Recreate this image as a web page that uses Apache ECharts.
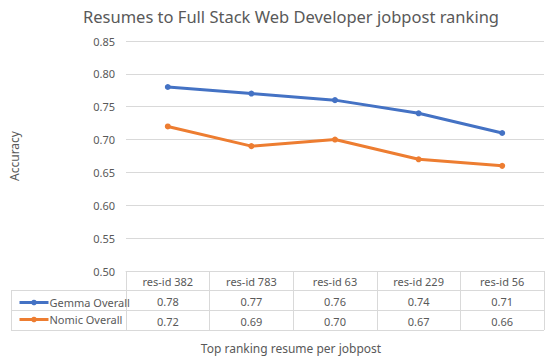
<!DOCTYPE html>
<html>
<head>
<meta charset="utf-8">
<script src="https://cdn.jsdelivr.net/npm/echarts@6/dist/echarts.min.js"></script>
<style>
html,body{margin:0;padding:0;background:#fff;}
#c{width:550px;height:360px;}
</style>
</head>
<body>
<div id="c"></div>
<script>
const categories = ['res-id 382', 'res-id 783', 'res-id 63', 'res-id 229', 'res-id 56'];
const gemmaOverall = [0.78, 0.77, 0.76, 0.74, 0.71];
const nomicOverall = [0.72, 0.69, 0.70, 0.67, 0.66];
const seriesNames = ['Gemma Overall', 'Nomic Overall'];
const yTicks = { min: 0.50, max: 0.85, interval: 0.05 };

const FONT = '"Noto Sans", "Open Sans", sans-serif';
const TXT = '#595959';
const BORDER = '#d9d9d9';
const fmt = v => v.toFixed(2);

const chart = echarts.init(document.getElementById('c'), null, { renderer: 'svg' });

const rowLine = (y) => ({ type: 'line', shape: { x1: 11, y1: y, x2: 544, y2: y }, style: { stroke: BORDER, lineWidth: 1 }, silent: true });

chart.setOption({
  animation: false,
  backgroundColor: '#fff',
  textStyle: { fontFamily: FONT },
  grid: { left: 126, right: 6, top: 41, bottom: 89, containLabel: false },
  legend: {
    orient: 'vertical', left: 13, top: 292,
    itemWidth: 29, itemHeight: 7, itemGap: 6,
    data: seriesNames,
    lineStyle: { width: 3 },
    textStyle: { color: TXT, fontSize: 11, fontFamily: FONT, padding: [0, 0, 0, -4] }
  },
  xAxis: [
    {
      type: 'category', data: categories, boundaryGap: true, position: 'bottom',
      axisLine: { show: true, lineStyle: { color: BORDER, width: 1 } },
      axisTick: { show: true, interval: 0, length: 59, lineStyle: { color: BORDER } },
      axisLabel: { color: TXT, fontSize: 11, fontFamily: FONT, margin: 10, verticalAlign: 'middle', interval: 0 }
    },
    {
      type: 'category', data: gemmaOverall.map(fmt), boundaryGap: true, position: 'bottom', offset: 20,
      axisLine: { show: false }, axisTick: { show: false },
      axisLabel: { color: TXT, fontSize: 11, fontFamily: FONT, margin: 10, verticalAlign: 'middle', interval: 0 }
    },
    {
      type: 'category', data: nomicOverall.map(fmt), boundaryGap: true, position: 'bottom', offset: 40,
      axisLine: { show: false }, axisTick: { show: false },
      axisLabel: { color: TXT, fontSize: 11, fontFamily: FONT, margin: 10, verticalAlign: 'middle', interval: 0 }
    }
  ],
  yAxis: {
    type: 'value', min: yTicks.min, max: yTicks.max, interval: yTicks.interval,
    name: 'Accuracy', nameLocation: 'middle', nameGap: 106,
    nameTextStyle: { color: TXT, fontSize: 12, fontFamily: FONT },
    axisLine: { show: false }, axisTick: { show: false },
    axisLabel: { color: TXT, fontSize: 11, fontFamily: FONT, margin: 11, formatter: v => v.toFixed(2) },
    splitLine: { show: true, lineStyle: { color: BORDER, width: 1 } }
  },
  series: [
    {
      name: seriesNames[0], type: 'line', data: gemmaOverall, xAxisIndex: 0,
      symbol: 'circle', symbolSize: 6, smooth: false,
      lineStyle: { color: '#4472C4', width: 3 }, itemStyle: { color: '#4472C4' }
    },
    {
      name: seriesNames[1], type: 'line', data: nomicOverall, xAxisIndex: 0,
      symbol: 'circle', symbolSize: 6, smooth: false,
      lineStyle: { color: '#ED7D31', width: 3 }, itemStyle: { color: '#ED7D31' }
    }
  ],
  graphic: [
    { type: 'text', x: 291, y: 16, style: { text: 'Resumes to Full Stack Web Developer jobpost ranking', fill: TXT, font: '16.5px ' + FONT, textAlign: 'center', textVerticalAlign: 'middle' } },
    { type: 'text', x: 291, y: 348, style: { text: 'Top ranking resume per jobpost', fill: TXT, font: '12px ' + FONT, textAlign: 'center', textVerticalAlign: 'middle' } },
    rowLine(290.5), rowLine(310.5), rowLine(330.5),
    { type: 'line', shape: { x1: 11.5, y1: 290, x2: 11.5, y2: 331 }, style: { stroke: BORDER, lineWidth: 1 }, silent: true }
  ]
});
</script>
</body>
</html>
